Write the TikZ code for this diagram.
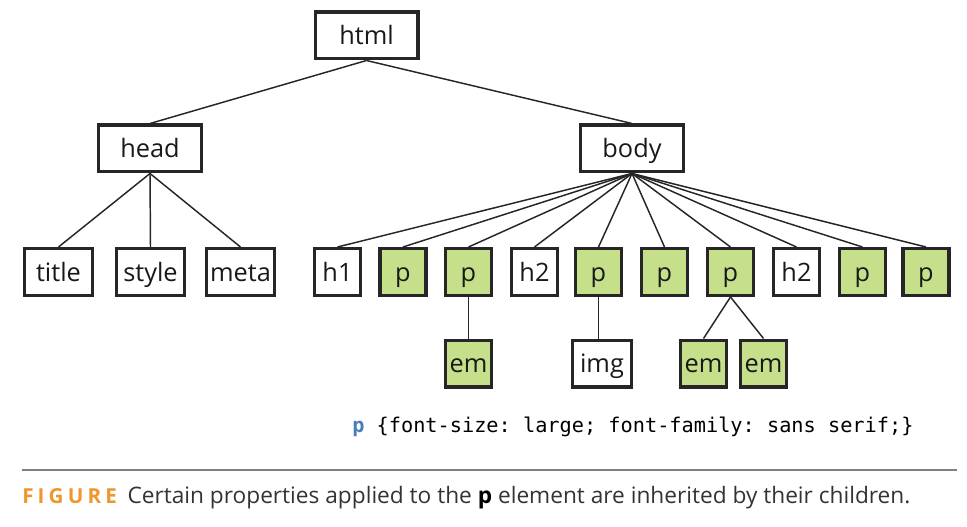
\documentclass[tikz,border=0pt]{standalone}
\usepackage{fontspec}
\setmainfont{Open Sans}
\setmonofont{DejaVu Sans Mono}
\usetikzlibrary{positioning}
\definecolor{tagfill}{RGB}{198,223,138}
\definecolor{selblue}{RGB}{74,126,187}
\definecolor{figorange}{RGB}{240,150,46}
\definecolor{captext}{RGB}{51,51,51}

\begin{document}
\begin{tikzpicture}[x=0.75pt, y=-0.75pt,
    tag/.style={draw=black!85, line width=2.4pt, inner sep=0pt, text=black!90,
      minimum width=34.4pt, minimum height=35.1pt,
      font=\fontsize{19}{20}\selectfont, text height=14pt, text depth=0pt},
    wide/.style={tag, minimum width=77.1pt},
    mid/.style={tag, minimum width=50.9pt},
    inh/.style={tag, fill=tagfill},
    link/.style={draw=black!85, line width=1.1pt}]
	\useasboundingbox (0,0) rectangle (967,527);
	% root and first level
	\node [wide] (html) at (366.5,35.5) {html};
	\node [wide] (head) at (150,148.5) {head};
	\node [wide] (body) at (632,148.5) {body};
	% children of head
	\node [mid] (title) at (58.5,272) {title};
	\node [mid] (style) at (150.5,272) {style};
	\node [mid] (meta) at (240.5,272) {meta};
	% children of body
	\node [tag] (h1) at (337.5,272) {h1};
	\node [inh] (pa) at (403,272) {p};
	\node [inh] (pb) at (468.5,272) {p};
	\node [tag] (h2a) at (534.5,272) {h2};
	\node [inh] (pc) at (598.5,272) {p};
	\node [inh] (pd) at (664.5,272) {p};
	\node [inh] (pe) at (730.5,272) {p};
	\node [tag] (h2b) at (796.5,272) {h2};
	\node [inh] (pf) at (862.5,272) {p};
	\node [inh] (pg) at (926,272) {p};
	% grandchildren
	\node [inh] (ema) at (468.5,363.5) {em};
	\node [tag, minimum width=44.1pt] (img) at (602,363.5) {img};
	\node [inh] (emb) at (703.5,363.5) {em};
	\node [inh] (emc) at (763.5,363.5) {em};
	% connectors
	\draw [link] (html.south) -- (head.north);
	\draw [link] (html.south) -- (body.north);
	\draw [link] (head.south) -- (title.north);
	\draw [link] (head.south) -- (style.north);
	\draw [link] (head.south) -- (meta.north);
	\draw [link] (body.south) -- (h1.north);
	\draw [link] (body.south) -- (pa.north);
	\draw [link] (body.south) -- (pb.north);
	\draw [link] (body.south) -- (h2a.north);
	\draw [link] (body.south) -- (pc.north);
	\draw [link] (body.south) -- (pd.north);
	\draw [link] (body.south) -- (pe.north);
	\draw [link] (body.south) -- (h2b.north);
	\draw [link] (body.south) -- (pf.north);
	\draw [link] (body.south) -- (pg.north);
	\draw [link] (pb.south) -- (ema.north);
	\draw [link] (pc.south) -- (pc.south |- img.north);
	\draw [link] (pe.south) -- (emb.north);
	\draw [link] (pe.south) -- (emc.north);
	% style rule and caption
	\node [anchor=base west, inner sep=0pt, font=\ttfamily\fontsize{15.2}{16}\selectfont] (rule) at (352,432)
		{\textcolor{selblue}{\textbf{p}} \{font-size: large; font-family: sans serif;\}};
	\coordinate (sepl) at (22,470);
	\coordinate (sepr) at (957,470);
	\draw [draw=black!50, line width=1.1pt] (sepl) -- (sepr);
	\node [anchor=base west, inner sep=0pt, text=captext, font=\fontsize{17}{19}\selectfont] (cap) at (22,503)
		{{\color{figorange}\bfseries\addfontfeature{LetterSpace=20}\fontsize{15.5}{17}\selectfont FIGURE}\hspace{8pt}Certain properties applied to the \textbf{\color{black}p} element are inherited by their children.};
\end{tikzpicture}
\end{document}
